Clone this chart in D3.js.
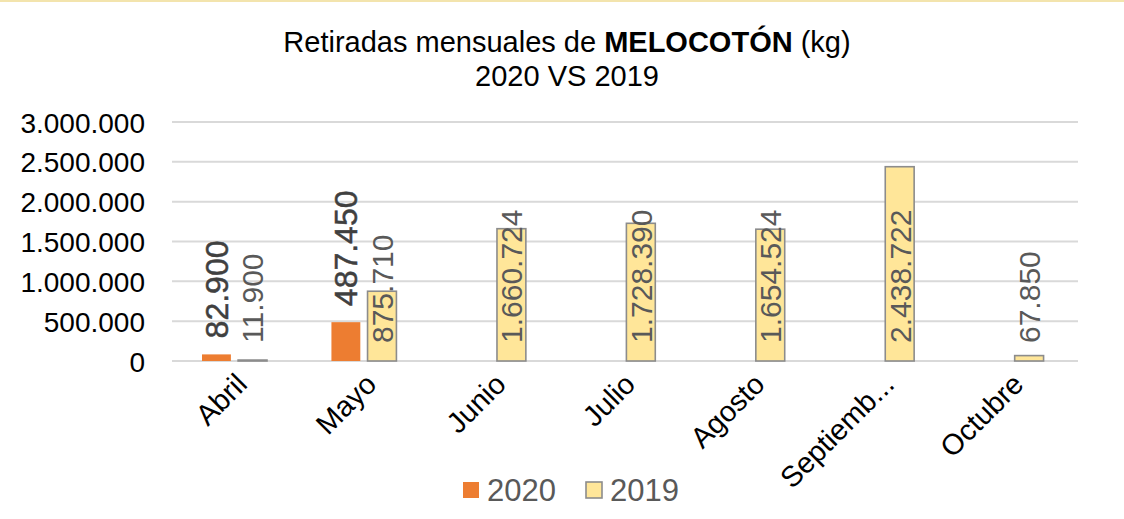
<!DOCTYPE html>
<html>
<head>
<meta charset="utf-8">
<script src="https://cdn.jsdelivr.net/npm/d3@7"></script>
<style>
  body { margin: 0; background: #fff; }
  svg { display: block; }
</style>
</head>
<body>
<svg id="chart"></svg>
<script>
// Chart data
const months = ["Abril", "Mayo", "Junio", "Julio", "Agosto", "Septiembre", "Octubre"];
const monthLabels = ["Abril", "Mayo", "Junio", "Julio", "Agosto", "Septiemb...", "Octubre"];
const seriesNames = ["2020", "2019"];
const values2020 = [82900, 487450, null, null, null, null, null];
const values2019 = [11900, 875710, 1660724, 1728390, 1654524, 2438722, 67850];
const yTicks = [0, 500000, 1000000, 1500000, 2000000, 2500000, 3000000];

const width = 1124, height = 519;
const plot = { left: 172, right: 1078, top: 122, bottom: 361 };

const svg = d3.select("#chart").attr("width", width).attr("height", height);

// Faint top border
svg.append("line")
  .attr("x1", 0).attr("x2", width).attr("y1", 1).attr("y2", 1)
  .attr("stroke", "#f3e4ad").attr("stroke-width", 2);

// Spanish number format: dots as thousands separator
const fmt = d3.formatLocale({ decimal: ",", thousands: ".", grouping: [3], currency: ["", "€"] }).format(",d");

// Scales
const x0 = d3.scaleBand().domain(months).range([plot.left, plot.right]);
const x1 = d3.scaleBand().domain(seriesNames).range([30, 95]).paddingInner(0.2);
const y = d3.scaleLinear().domain([0, 3000000]).range([plot.bottom, plot.top]);

// Title
const title = svg.append("text")
  .attr("text-anchor", "middle")
  .attr("font-family", "'Liberation Sans', Arial, sans-serif")
  .attr("font-size", 29)
  .attr("fill", "#000");
const t1 = title.append("tspan").attr("x", 567).attr("y", 52);
t1.append("tspan").text("Retiradas mensuales de ");
t1.append("tspan").attr("font-weight", "bold").text("MELOCOTÓN");
t1.append("tspan").text(" (kg)");
title.append("tspan").attr("x", 567).attr("y", 86).text("2020 VS 2019");

// Gridlines
svg.append("g")
  .selectAll("line")
  .data(yTicks)
  .enter()
  .append("line")
  .attr("x1", plot.left).attr("x2", plot.right)
  .attr("y1", d => y(d)).attr("y2", d => y(d))
  .attr("stroke", "#d9d9d9").attr("stroke-width", 2);

// Y axis labels
const yAxis = svg.append("g")
  .attr("transform", `translate(${plot.left - 27},0)`)
  .call(d3.axisLeft(y).tickValues(yTicks).tickFormat(fmt).tickSize(0).tickPadding(0));
yAxis.select(".domain").remove();
yAxis.selectAll("text")
  .attr("font-family", "'Liberation Sans', Arial, sans-serif")
  .attr("font-size", 28)
  .attr("fill", "#000")
  .attr("dy", "0.36em");

// X axis labels
const xAxis = svg.append("g")
  .attr("transform", `translate(0,${plot.bottom})`)
  .call(d3.axisBottom(x0).tickSize(0).tickFormat((d, i) => monthLabels[i]));
xAxis.select(".domain").remove();
xAxis.selectAll("text")
  .attr("font-family", "'Liberation Sans', Arial, sans-serif")
  .attr("font-size", 29)
  .attr("fill", "#000")
  .attr("text-anchor", "end")
  .attr("dy", 0)
  .attr("y", 0)
  .attr("transform", "translate(12,25) rotate(-45)");

// Bars
const rows = months.map((m, i) => ({ month: m, "2020": values2020[i], "2019": values2019[i] }));
const style = {
  "2020": { fill: "#ed7d31", stroke: "none" },
  "2019": { fill: "#ffe699", stroke: "#8c8c8c" }
};

const groups = svg.append("g")
  .selectAll("g")
  .data(rows)
  .enter()
  .append("g")
  .attr("transform", d => `translate(${x0(d.month)},0)`);

groups.selectAll("rect")
  .data(d => seriesNames.filter(s => d[s] != null).map(s => ({ key: s, value: d[s] })))
  .enter()
  .append("rect")
  .attr("x", d => x1(d.key))
  .attr("width", x1.bandwidth())
  .attr("y", d => y(d.value))
  .attr("height", d => y(0) - y(d.value))
  .attr("fill", d => style[d.key].fill)
  .attr("stroke", d => style[d.key].stroke)
  .attr("stroke-width", 1.6);

// Data labels: 2020 above bar end, 2019 from the base
groups.selectAll("text.lbl")
  .data(d => seriesNames.filter(s => d[s] != null).map(s => ({ key: s, value: d[s] })))
  .enter()
  .append("text")
  .attr("class", "lbl")
  .attr("font-family", "'Liberation Sans', Arial, sans-serif")
  .attr("font-size", d => d.key === "2020" ? 32 : 30)
  .attr("fill", d => d.key === "2020" ? "#404040" : "#595959")
  .attr("stroke", d => d.key === "2020" ? "#404040" : "none")
  .attr("stroke-width", 0.5)
  .attr("dy", "0.36em")
  .attr("transform", d => {
    const cx = x1(d.key) + x1.bandwidth() / 2;
    const cy = d.key === "2020" ? y(d.value) - 16 : y(0) - 18;
    return `translate(${cx},${cy}) rotate(-90)`;
  })
  .text(d => fmt(d.value));

// Legend
const legend = svg.append("g").attr("transform", "translate(463,482)");
const items = legend.selectAll("g")
  .data(seriesNames)
  .enter()
  .append("g")
  .attr("transform", (d, i) => `translate(${i * 123},0)`);
items.append("rect")
  .attr("width", 16).attr("height", 16)
  .attr("fill", d => style[d].fill)
  .attr("stroke", d => style[d].stroke)
  .attr("stroke-width", 1.6);
items.append("text")
  .attr("x", 24).attr("y", 8).attr("dy", "0.36em")
  .attr("font-family", "'Liberation Sans', Arial, sans-serif")
  .attr("font-size", 31)
  .attr("fill", "#595959")
  .text(d => d);
</script>
</body>
</html>
